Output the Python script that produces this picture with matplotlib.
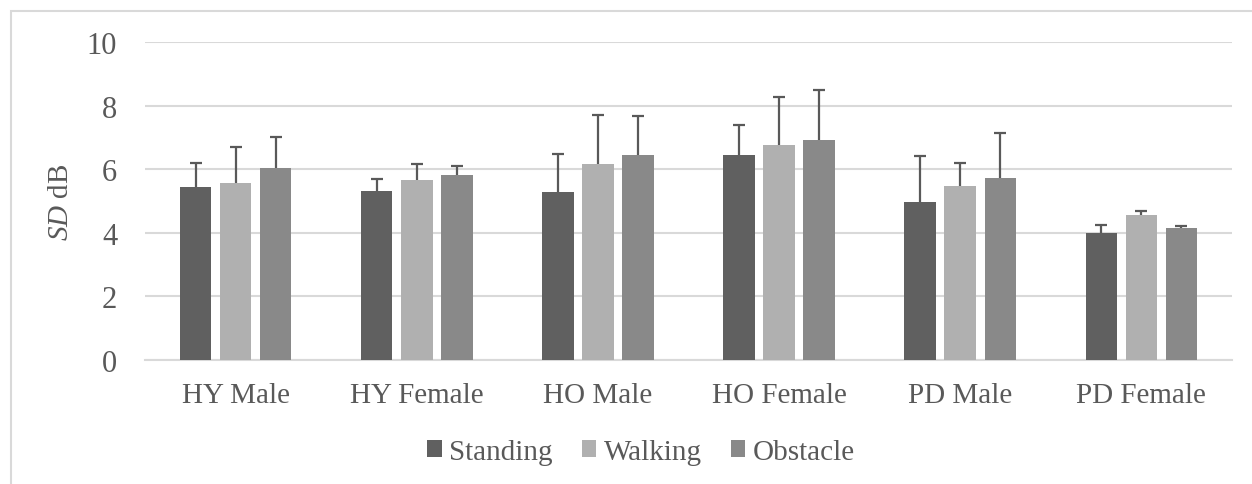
import matplotlib
matplotlib.use("Agg")
import matplotlib.pyplot as plt
import numpy as np
from matplotlib.patches import Rectangle

categories = ["HY Male", "HY Female", "HO Male", "HO Female", "PD Male", "PD Female"]
series_names = ["Standing", "Walking", "Obstacle"]
standing = [5.44, 5.31, 5.29, 6.45, 4.97, 3.98]
walking = [5.56, 5.65, 6.16, 6.77, 5.47, 4.57]
obstacle = [6.05, 5.81, 6.44, 6.91, 5.71, 4.16]
standing_sd = [0.75, 0.38, 1.18, 0.93, 1.44, 0.25]
walking_sd = [1.15, 0.50, 1.55, 1.51, 0.71, 0.12]
obstacle_sd = [0.95, 0.29, 1.23, 1.57, 1.42, 0.05]
yticks = [0, 2, 4, 6, 8, 10]

colors = ["#606060", "#b0b0b0", "#898989"]
plt.rcParams['font.family'] = ['Liberation Serif', 'DejaVu Serif']
plt.rcParams['mathtext.fontset'] = 'custom'
plt.rcParams['mathtext.it'] = 'Liberation Serif:italic'
plt.rcParams['mathtext.rm'] = 'Liberation Serif'

fig = plt.figure(figsize=(12.52, 4.85), dpi=100)
W, H = 1252, 485
ax = fig.add_axes([145 / W, 1 - 361 / H, (1232 - 145) / W, (361 - 43) / H])

# outer chart border (light gray)
fig.patches.append(Rectangle((11 / W, -0.1), 1.2, 1 - 12 / H + 0.1, transform=fig.transFigure,
                             fill=False, edgecolor="#d9d9d9", linewidth=1.5, zorder=0))

x = np.arange(len(categories))
width = 0.174
step = 0.221
data = [standing, walking, obstacle]
sds = [standing_sd, walking_sd, obstacle_sd]
handles = []
for i, (vals, sd) in enumerate(zip(data, sds)):
    pos = x + (i - 1) * step
    vals = np.array(vals)
    sd = np.array(sd)
    b = ax.bar(pos, vals, width, color=colors[i], label=series_names[i], zorder=3)
    handles.append(b)
    ax.vlines(pos, vals, vals + sd, color="#595959", linewidth=1.6, zorder=4)
    ax.plot(pos, vals + sd, linestyle="none", marker="_", markersize=8,
            markeredgewidth=1.6, color="#595959", zorder=4)

ax.set_ylim(0, 10)
ax.set_xlim(-0.5, len(categories) - 0.5)
ax.set_yticks(yticks)
ax.set_xticks(x)
ax.set_xticklabels(categories)
ax.yaxis.grid(True, color="#d9d9d9", linewidth=1.5, zorder=0)
ax.set_axisbelow(True)
for s in ["top", "right", "left"]:
    ax.spines[s].set_visible(False)
ax.spines["bottom"].set_color("#d9d9d9")
ax.spines["bottom"].set_linewidth(1.5)
ax.tick_params(axis="both", length=0, labelsize=21, labelcolor="#595959")
ax.tick_params(axis="y", pad=20, labelsize=22)
ax.tick_params(axis="x", pad=16)

fig.text(61 / W, 1 - 202 / H, r"$\mathit{SD}$ dB", rotation=90, ha="center", va="center",
         fontsize=21, color="#595959")

leg = fig.legend(handles=handles, labels=series_names, loc="center", ncol=3,
                 bbox_to_anchor=(641 / W, 1 - 453 / H), frameon=False, fontsize=21,
                 handlelength=0.5, handleheight=0.5, handletextpad=0.25, columnspacing=1.0,
                 labelcolor="#595959")

fig.savefig("out.png", dpi=100)
